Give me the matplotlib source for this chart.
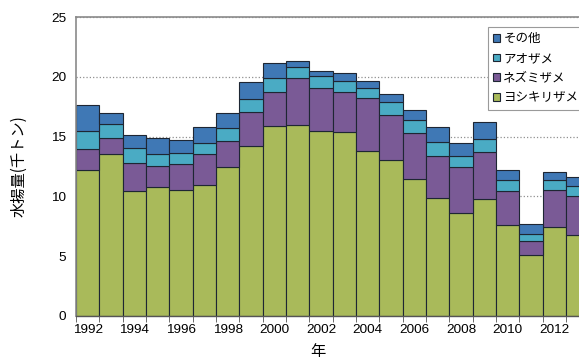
import matplotlib.pyplot as plt
import numpy as np

plt.rcParams['font.family'] = ['Noto Sans CJK JP', 'DejaVu Sans']

years = list(range(1992, 2014))
yoshikiri = [12.2, 13.54, 10.45, 10.81, 10.56, 10.96, 12.42, 14.24, 15.85, 15.99, 15.49,
             15.35, 13.77, 13.07, 11.43, 9.89, 8.6, 9.75, 7.6, 5.1, 7.47, 6.77]
nezumi = [1.76, 1.35, 2.36, 1.75, 2.16, 2.55, 2.21, 2.84, 2.88, 3.89, 3.61,
          3.35, 4.43, 3.73, 3.84, 3.51, 3.82, 3.99, 2.85, 1.17, 3.07, 3.26]
aozame = [1.49, 1.18, 1.21, 0.98, 0.88, 0.96, 1.07, 1.04, 1.2, 0.92, 0.97,
          0.95, 0.89, 1.07, 1.12, 1.18, 0.98, 1.06, 0.92, 0.56, 0.83, 0.84]
sonota = [2.19, 0.93, 1.15, 1.38, 1.15, 1.32, 1.24, 1.42, 1.22, 0.5, 0.38,
          0.64, 0.56, 0.69, 0.83, 1.25, 1.04, 1.45, 0.83, 0.83, 0.7, 0.78]

labels = ['ヨシキリザメ', 'ネズミザメ', 'アオザメ', 'その他']
colors = ['#a9ba5a', '#7a5a96', '#4aabc4', '#3f78b5']

fig = plt.figure(figsize=(5.79, 3.61), dpi=100)
# axes runs a little past the right edge of the figure
ax = fig.add_axes([76 / 579, 45 / 361, 513.3 / 579, 299 / 361])

x = np.arange(len(years))
bottom = np.zeros(len(years))
handles = []
for vals, lab, col in zip([yoshikiri, nezumi, aozame, sonota], labels, colors):
    b = ax.bar(x, vals, width=1.0, bottom=bottom, color=col, edgecolor='#1e2633',
               linewidth=0.8, label=lab, zorder=2)
    handles.append(b)
    bottom += np.array(vals)

ax.set_xlim(-0.5, len(years) - 0.5)
ax.set_ylim(0, 25)
ax.set_yticks([0, 5, 10, 15, 20, 25])
ax.yaxis.grid(True, linestyle=':', color='#909090', linewidth=0.9, zorder=0)
ax.set_axisbelow(True)

ax.set_xticks(x[::2])
ax.set_xticklabels([str(y) for y in years[::2]])
ax.set_xticks(np.arange(-0.5, len(years), 1.0), minor=True)
ax.tick_params(axis='x', which='major', length=0, pad=6)
ax.tick_params(axis='x', which='minor', length=4, color='#555555', direction='out')
ax.tick_params(axis='y', length=0, pad=7)
for lab in ax.get_xticklabels() + ax.get_yticklabels():
    lab.set_fontfamily(['Liberation Sans', 'DejaVu Sans'])
    lab.set_fontsize(9.7)

for side in ['left', 'top', 'right']:
    ax.spines[side].set_color('#8a8a8a')
    ax.spines[side].set_linewidth(1.2)
ax.spines['bottom'].set_color('#555555')
ax.spines['bottom'].set_linewidth(1.0)

ax.set_ylabel('水揚量(千トン)', fontsize=11, labelpad=10)
ax.yaxis.set_label_coords(-0.094, 0.5)
ax.set_xlabel('年', fontsize=11, labelpad=4)
ax.xaxis.set_label_coords(0.471, -0.09)

leg = ax.legend(handles[::-1], labels[::-1], loc='upper right',
                bbox_to_anchor=(1 - 6 / 513.3, 1 - 10 / 299), borderaxespad=0,
                fontsize=9, handlelength=0.6, handleheight=0.6, handletextpad=0.25,
                labelspacing=0.55, borderpad=0.4, fancybox=False, framealpha=1,
                edgecolor='#9a9a9a')
leg.get_frame().set_linewidth(0.8)

fig.savefig('out.png', dpi=100)
